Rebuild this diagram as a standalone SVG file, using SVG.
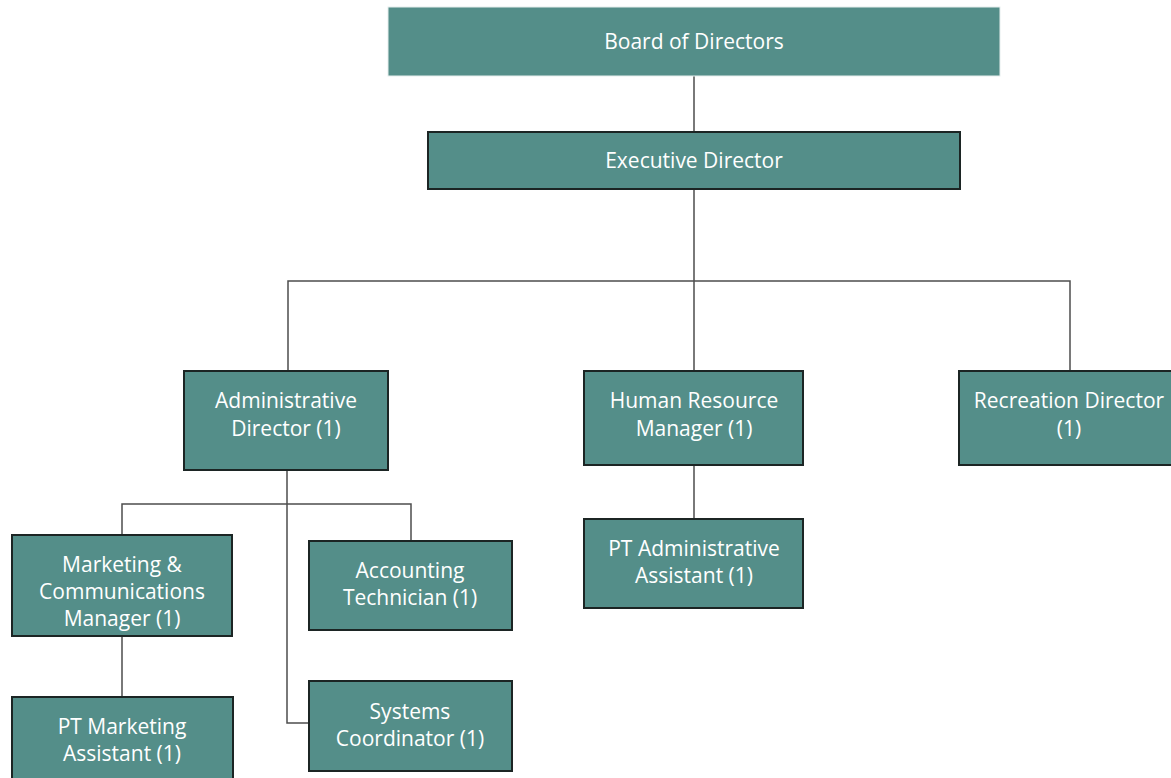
<svg xmlns="http://www.w3.org/2000/svg" width="1171" height="778" viewBox="0 0 1171 778">
  <style>
    .box { fill: #548e89; stroke: #1c2524; stroke-width: 2; }
    .top { fill: #548e89; stroke: #e6eeed; stroke-width: 1; }
    .lbl { font-family: "Open Sans", "Liberation Sans", Arial, sans-serif; font-size: 21px; fill: #ffffff; text-anchor: middle; }
    .wire { fill: none; stroke: #4d4d4d; stroke-width: 1.5; }
  </style>
  <rect width="1171" height="778" fill="#ffffff"/>

  <g id="connectors">
    <path class="wire" d="M694 76 V132"/>
    <path class="wire" d="M694 189 V371"/>
    <path class="wire" d="M288 371 V281 H1070 V371"/>
    <path class="wire" d="M287 470 V723 H309"/>
    <path class="wire" d="M122 535 V504 H411 V541"/>
    <path class="wire" d="M122 636 V697"/>
    <path class="wire" d="M694 465 V519"/>
  </g>

  <g id="board">
    <rect class="top" x="388" y="7" width="612" height="69"/>
    <text class="lbl" x="694" y="49">Board of Directors</text>
  </g>
  <g id="executive">
    <rect class="box" x="428" y="132" width="532" height="57"/>
    <text class="lbl" x="694" y="168">Executive Director</text>
  </g>
  <g id="admin-director">
    <rect class="box" x="184" y="371" width="204" height="99"/>
    <text class="lbl" x="286" y="408">Administrative</text>
    <text class="lbl" x="286" y="436">Director (1)</text>
  </g>
  <g id="hr-manager">
    <rect class="box" x="584" y="371" width="219" height="94"/>
    <text class="lbl" x="694" y="408">Human Resource</text>
    <text class="lbl" x="694" y="436">Manager (1)</text>
  </g>
  <g id="recreation-director">
    <rect class="box" x="959" y="371" width="216" height="94"/>
    <text class="lbl" x="1069" y="408">Recreation Director</text>
    <text class="lbl" x="1069" y="436">(1)</text>
  </g>
  <g id="marketing-manager">
    <rect class="box" x="12" y="535" width="220" height="101"/>
    <text class="lbl" x="122" y="572">Marketing &amp;</text>
    <text class="lbl" x="122" y="599">Communications</text>
    <text class="lbl" x="122" y="626">Manager (1)</text>
  </g>
  <g id="accounting-technician">
    <rect class="box" x="309" y="541" width="203" height="89"/>
    <text class="lbl" x="410" y="578">Accounting</text>
    <text class="lbl" x="410" y="605">Technician (1)</text>
  </g>
  <g id="pt-admin-assistant">
    <rect class="box" x="584" y="519" width="219" height="89"/>
    <text class="lbl" x="694" y="556">PT Administrative</text>
    <text class="lbl" x="694" y="583">Assistant (1)</text>
  </g>
  <g id="systems-coordinator">
    <rect class="box" x="309" y="681" width="203" height="90"/>
    <text class="lbl" x="410" y="719">Systems</text>
    <text class="lbl" x="410" y="746">Coordinator (1)</text>
  </g>
  <g id="pt-marketing-assistant">
    <rect class="box" x="12" y="697" width="221" height="90"/>
    <text class="lbl" x="122" y="734">PT Marketing</text>
    <text class="lbl" x="122" y="761">Assistant (1)</text>
  </g>
</svg>
